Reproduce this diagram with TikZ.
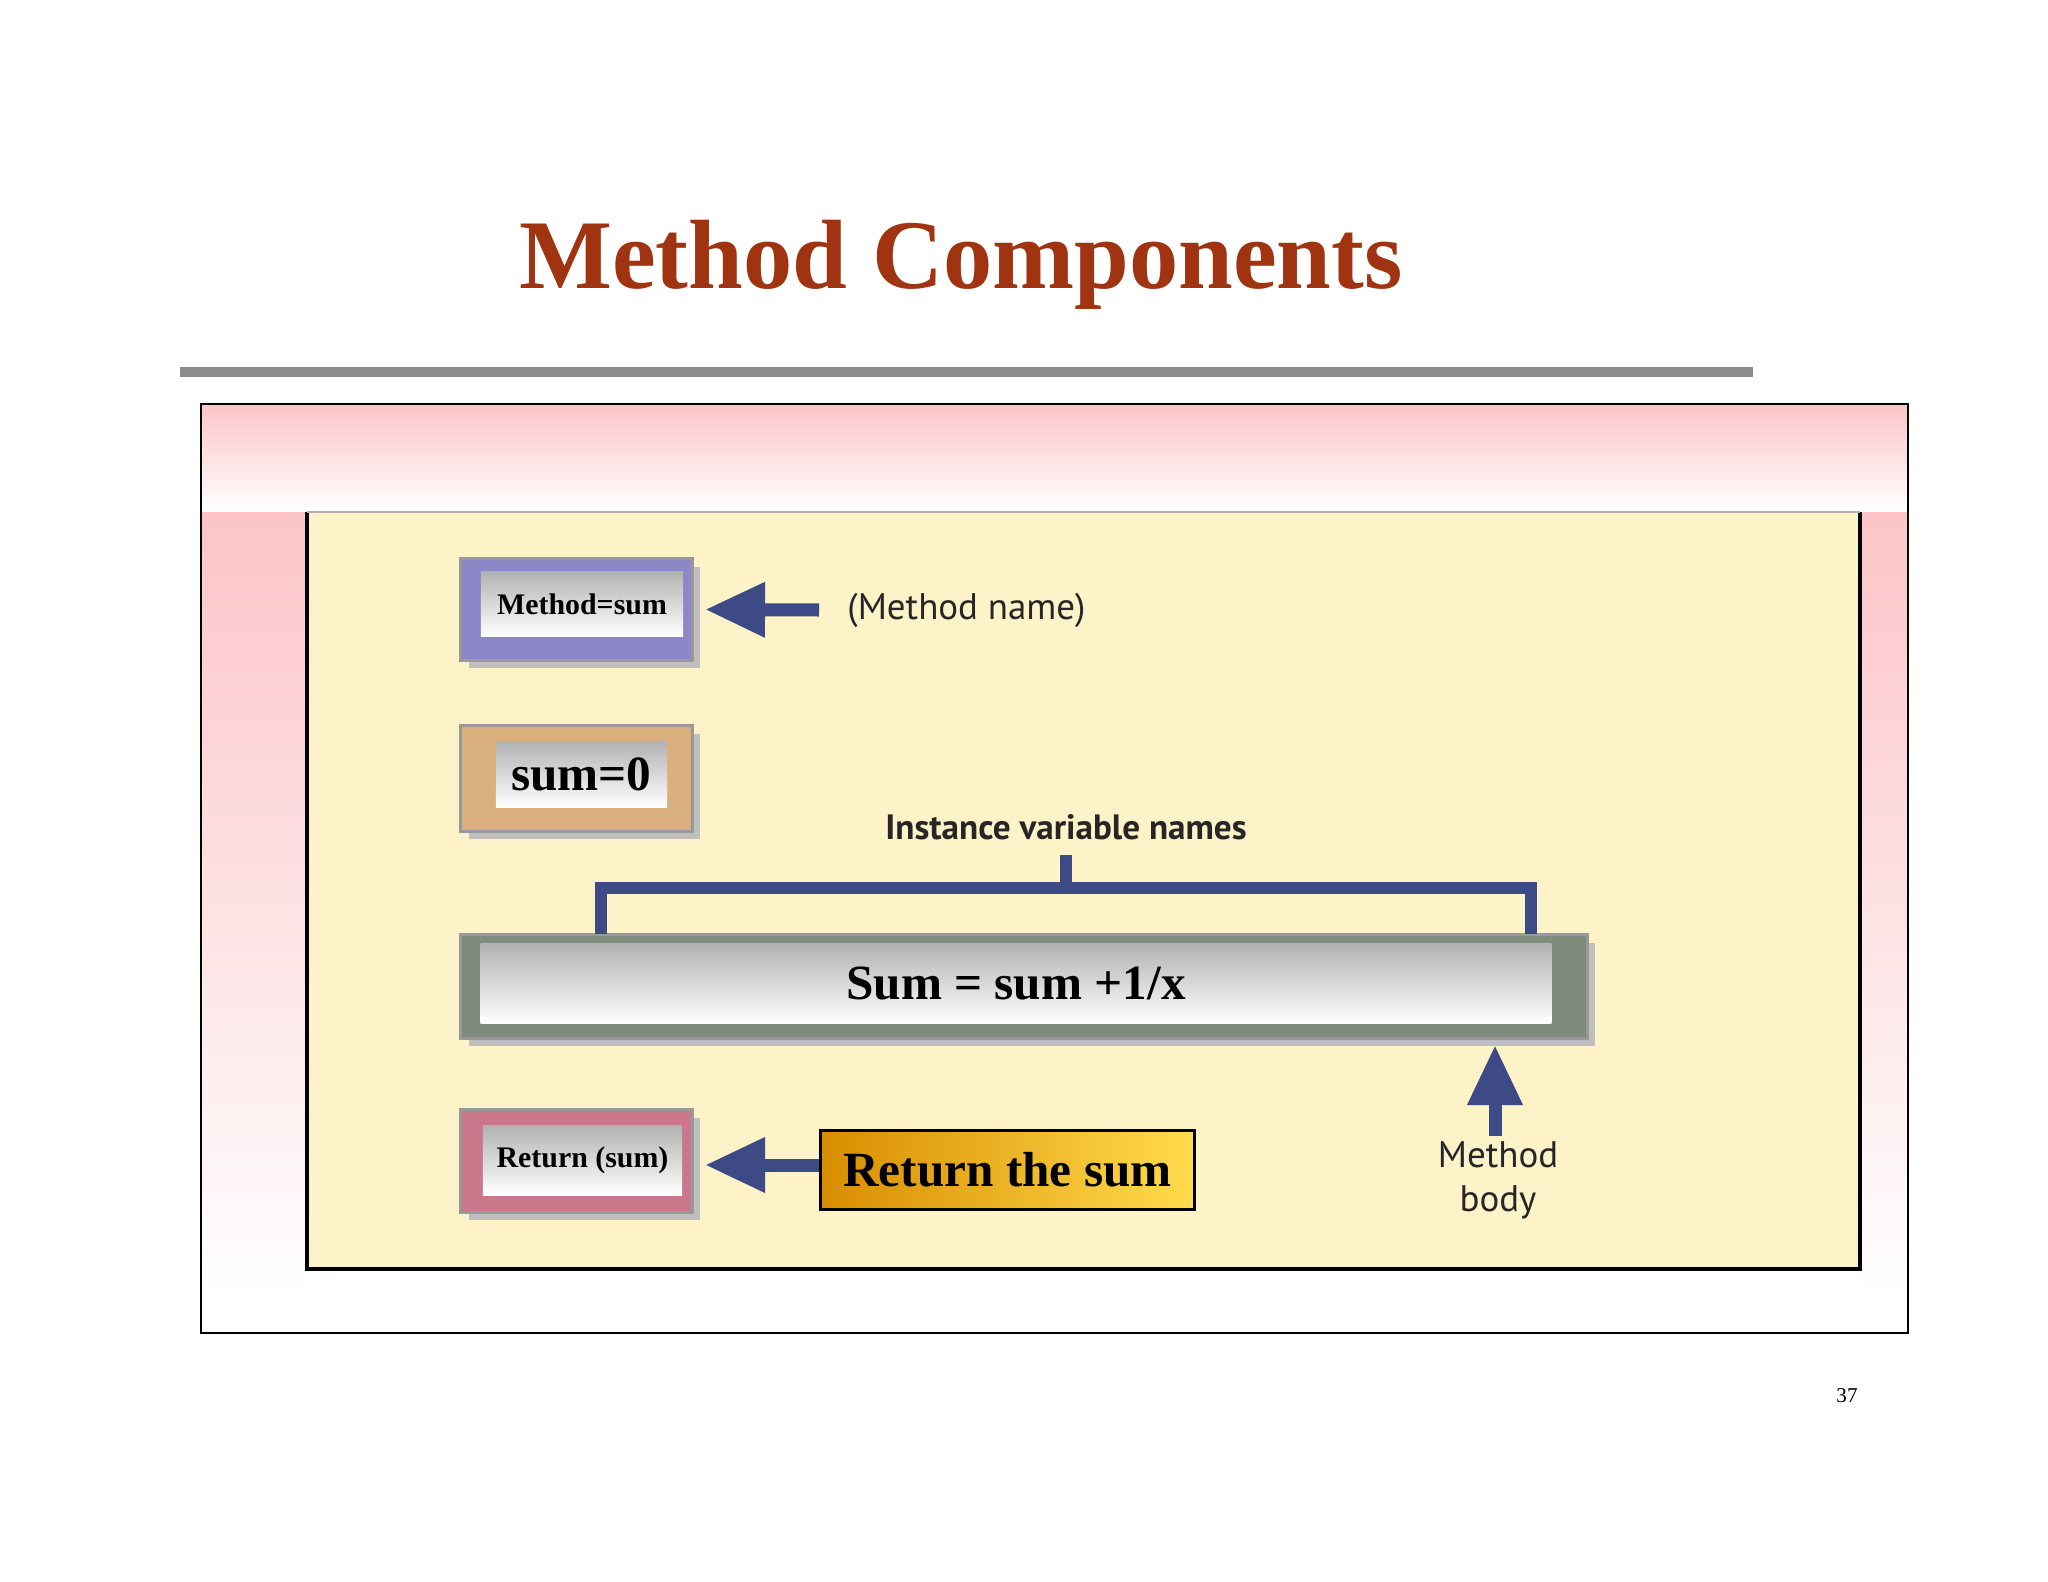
\documentclass[tikz,border=0pt]{standalone}
\usepackage{fontspec}
\setmainfont{Liberation Serif}
\newfontfamily\opt{PT Sans}
\usetikzlibrary{arrows.meta}
\definecolor{titlec}{RGB}{160,52,16}
\definecolor{panel}{RGB}{253,242,200}
\definecolor{arrowc}{RGB}{61,74,134}
\definecolor{purp}{RGB}{140,136,200}
\definecolor{tan}{RGB}{217,176,126}
\definecolor{grn}{RGB}{126,140,126}
\definecolor{rose}{RGB}{200,120,138}
\definecolor{pinkc}{RGB}{252,196,200}
\tikzset{
  outerbox/.style={draw=black!40,line width=0.3mm,inner sep=0pt},
  innerbox/.style={draw=none,top color=black!30,bottom color=white,inner sep=0pt,font=\bfseries},
  shadow/.style={fill=black!25,draw=none},
  bigarrow/.style={draw=arrowc,line width=1.3mm,-{Triangle[length=6mm,width=5.2mm]}},
  lbl/.style={font=\opt\fontsize{10.5}{12}\selectfont,text=black!85},
}
\begin{document}
\begin{tikzpicture}[x=0.01cm,y=-0.01cm]
\useasboundingbox[fill=white] (0,0) rectangle (2048,1582);
% title
\node[font=\bfseries\fontsize{28}{32}\selectfont,text=titlec] (title) at (961,265) {Method Components};
\fill[black!45] (180,367) rectangle (1753,377);
% frame background
\shade[top color=pinkc,bottom color=white] (201,404) rectangle (1908,512);
\shade[top color=pinkc,bottom color=white] (201,512) rectangle (307,1300);
\shade[top color=pinkc,bottom color=white] (1860,512) rectangle (1908,1300);
\draw[line width=0.25mm] (201,404) rectangle (1908,1333);
\fill[panel] (307,512) rectangle (1860,1269);
\draw[line width=0.4mm] (307,512) -- (307,1269) -- (1860,1269) -- (1860,512);
\draw[black!30,line width=0.2mm] (307,512) -- (1860,512);
% boxes
\fill[shadow] (469,567) rectangle (700,668);
\node[outerbox,fill=purp,minimum width=2.31cm,minimum height=1.01cm] (m) at (576.5,609.5) {};
\node[innerbox,minimum width=2.02cm,minimum height=0.64cm,font=\bfseries\fontsize{8.5}{10}\selectfont] (mi) at (582,604) {Method=sum};
\fill[shadow] (469,734) rectangle (700,839);
\node[outerbox,fill=tan,minimum width=2.31cm,minimum height=1.05cm] (s) at (576.5,778.5) {};
\node[innerbox,minimum width=1.71cm,minimum height=0.65cm,font=\bfseries\fontsize{14}{16}\selectfont] (si) at (581.5,774.5) {sum=0};
\fill[shadow] (469,943) rectangle (1595,1046);
\node[outerbox,fill=grn,minimum width=11.26cm,minimum height=1.03cm] (b) at (1024,986.5) {};
\node[innerbox,minimum width=10.7cm,minimum height=0.79cm,font=\bfseries\fontsize{14}{16}\selectfont] (bi) at (1016,983.5) {Sum = sum +1/x};
\fill[shadow] (469,1118) rectangle (700,1220);
\node[outerbox,fill=rose,minimum width=2.31cm,minimum height=1.02cm] (r) at (576.5,1161) {};
\node[innerbox,minimum width=1.99cm,minimum height=0.69cm,font=\bfseries\fontsize{8.5}{10}\selectfont] (ri) at (582.5,1160.5) {Return (sum)};
% labels
\node[lbl,anchor=west] (mn) at (835,610) {(Method name)};
\node[lbl,font=\opt\bfseries\fontsize{10}{12}\selectfont] (iv) at (1066,827) {Instance variable names};
\node[lbl,align=center,font=\opt\fontsize{10.5}{12.5}\selectfont] (mb) at (1498,1180) {Method\\body};
\node[draw=black,line width=0.3mm,left color=orange!70!yellow!85!black,right color=yellow!60!orange!70,minimum width=3.73cm,minimum height=0.78cm,font=\bfseries\fontsize{14}{16}\selectfont] (rs) at (1007.5,1170) {Return the sum};
\node[font=\fontsize{6}{7}\selectfont] (pg) at (1847,1396) {37};
% arrows
\coordinate (a1) at (819,610);
\draw[bigarrow] (a1) -- (m.east -| 705,0);
\coordinate (a2) at (819,1165);
\draw[bigarrow] (a2) -- (705,1165);
\coordinate (a3) at (1495,1136);
\draw[bigarrow] (a3) -- (1495,1045);
% bracket
\draw[arrowc,line width=1.2mm] (1066,855) -- (1066,888);
\draw[arrowc,line width=1.2mm] (601,934) -- (601,888) -- (1531,888) -- (1531,934);
\end{tikzpicture}
\end{document}
